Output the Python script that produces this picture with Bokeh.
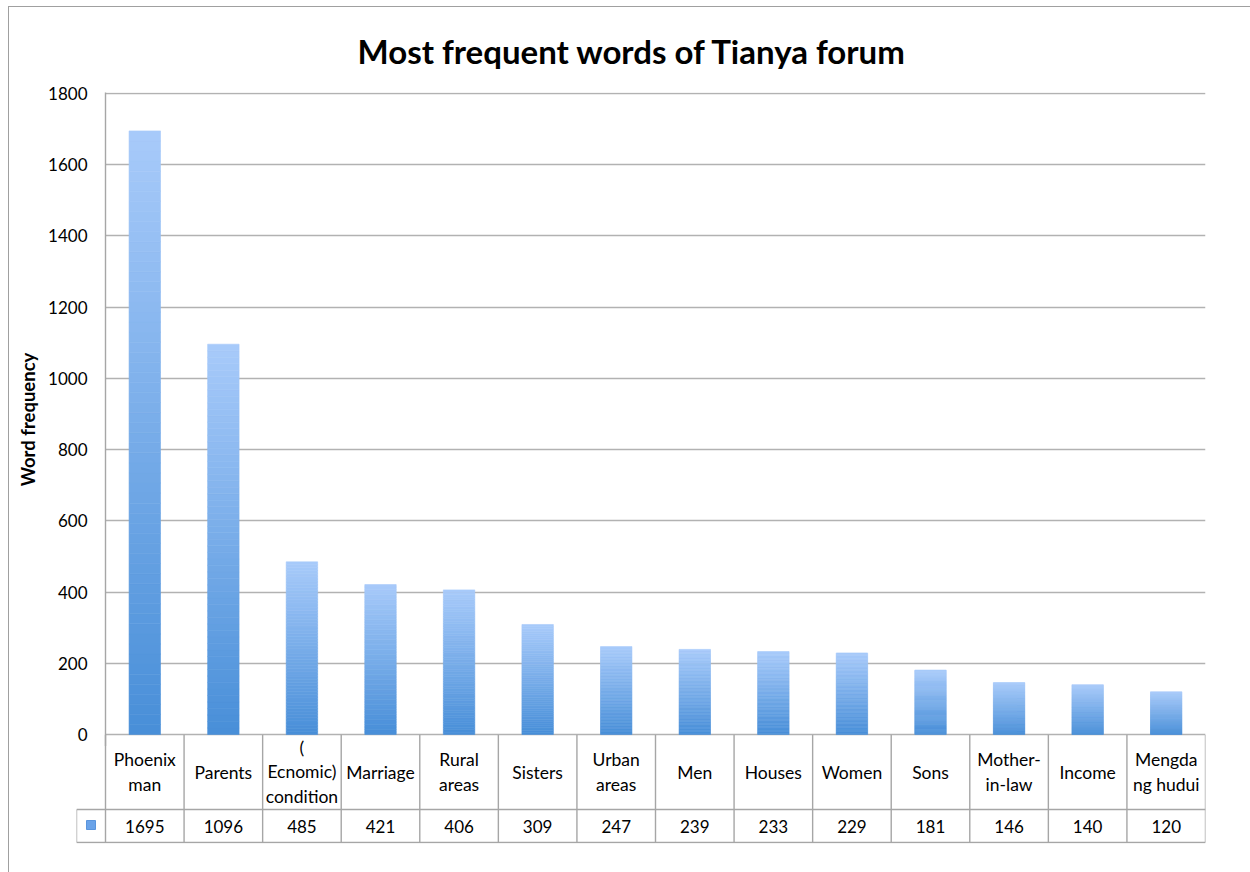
import numpy as np
from bokeh.plotting import figure
from bokeh.models import Range1d, FixedTicker, ColumnDataSource
from bokeh.layouts import column
from bokeh.embed import file_html
from bokeh.resources import INLINE
from bokeh.core.properties import value

# ---------------- data ----------------
categories = ["Phoenix\nman", "Parents", "(\nEcnomic)\ncondition", "Marriage",
              "Rural\nareas", "Sisters", "Urban\nareas", "Men", "Houses",
              "Women", "Sons", "Mother-\nin-law", "Income", "Mengda\nng hudui"]
frequencies = [1695, 1096, 485, 421, 406, 309, 247, 239, 233, 229, 181, 146, 140, 120]
y_ticks = [0, 200, 400, 600, 800, 1000, 1200, 1400, 1600, 1800]

TITLE = "Most frequent words of Tianya forum"
Y_LABEL = "Word frequency"

# ---------------- style ----------------
FONT = "Lato"
GRID = "#b2b2b2"
LINE = "#a6a6a6"
TOP_C = np.array([168, 203, 250])
BOT_C = np.array([72, 142, 216])

n = len(categories)
xc = np.arange(n) + 0.5
vals = np.array(frequencies, dtype=float)
PX = 642.0 / 1800.0  # px per unit
EXT = 12.0           # extra px below the zero line so the "0" label is not cut

H_VAL = 33.0
H_HEAD = 75.0

# ---------------- chart ----------------
p1 = figure(width=1241, height=739, output_backend="svg", toolbar_location=None,
            x_range=Range1d(0, n), y_range=Range1d(-EXT / PX, 1800 + 1.0 / PX),
            x_axis_location=None, y_axis_location="left",
            min_border_left=96, min_border_right=45, min_border_top=84, min_border_bottom=0,
            title=TITLE)
p1.outline_line_color = None
p1.background_fill_color = "white"
p1.border_fill_color = "white"
p1.title.text_font = FONT
p1.title.text_font_size = "33px"
p1.title.text_font_style = "bold"
p1.title.text_color = "black"
p1.title.align = "left"
p1.title.offset = 252
p1.title.standoff = 43

p1.xgrid.visible = False
p1.ygrid.ticker = FixedTicker(ticks=y_ticks)
p1.ygrid.grid_line_color = GRID
p1.ygrid.grid_line_width = 1.4

ax = p1.yaxis[0]
ax.ticker = FixedTicker(ticks=y_ticks)
ax.axis_line_color = LINE
ax.axis_line_width = 1.4
ax.major_tick_line_color = None
ax.minor_tick_line_color = None
ax.major_label_text_font = FONT
ax.major_label_text_font_size = "17px"
ax.major_label_text_color = "black"
ax.major_label_standoff = 12
ax.axis_label = Y_LABEL
ax.axis_label_text_font = FONT
ax.axis_label_text_font_size = "18.5px"
ax.axis_label_text_font_style = "bold"
ax.axis_label_text_color = "black"
ax.axis_label_standoff = 6

# gradient bars: each bar split into thin slices with interpolated colours
NS = 60
bx, bb, bt, bc = [], [], [], []
for k in range(NS):
    t = (k + 0.5) / NS
    c = BOT_C + (TOP_C - BOT_C) * t
    col = "#%02x%02x%02x" % tuple(int(round(v)) for v in c)
    for i in range(n):
        bx.append(xc[i])
        bb.append(vals[i] * k / NS)
        bt.append(vals[i] * (k + 1) / NS)
        bc.append(col)
p1.vbar(x="x", bottom="b", top="t", width=0.4, fill_color="c", line_color="c",
        line_width=0.6, source=ColumnDataSource(dict(x=bx, b=bb, t=bt, c=bc)))

# ---------------- data table (transparent, overlaps the chart's bottom strip) ----------------
KEY = 29.0 / (1100.0 / n)  # width of legend-key cell in category units
TOP2 = H_VAL + H_HEAD
p2 = figure(width=1241, height=138, output_backend="svg", toolbar_location=None,
            x_range=Range1d(-KEY, n), y_range=Range1d(-1, TOP2),
            x_axis_location=None, y_axis_location=None,
            min_border_left=67, min_border_right=45, min_border_top=0, min_border_bottom=29,
            margin=(-int(EXT), 0, 0, 0))
try:
    p1.frame_align = False
    p2.frame_align = False
except Exception:
    pass
p2.outline_line_color = None
p2.grid.visible = False
p2.background_fill_color = None
p2.border_fill_color = None

edges = np.arange(n + 1)
p2.segment(x0=edges, y0=[0] * (n + 1), x1=edges, y1=[TOP2] * (n + 1),
           line_color=LINE, line_width=1.4)
p2.segment(x0=[-KEY, -KEY, -KEY], y0=[0, 0, H_VAL], x1=[-KEY, n, n], y1=[H_VAL, 0, H_VAL],
           line_color=LINE, line_width=1.4)

p2.text(x=xc, y=[H_VAL + H_HEAD / 2] * n, text=categories,
        text_font=value(FONT), text_font_size="17.5px", text_align="center",
        text_baseline="middle", text_line_height=1.15, text_color="black")
p2.text(x=xc, y=[H_VAL / 2] * n, text=[str(v) for v in frequencies],
        text_font=value(FONT), text_font_size="17px", text_align="center",
        text_baseline="middle", text_color="black")
p2.scatter(x=[-KEY / 2], y=[H_VAL / 2 + 1], marker="square", size=9,
           fill_color="#6aa3e9", line_color="#5a95dd")

layout = column(p1, p2, margin=(6, 0, 0, 8), spacing=0,
                styles={"border-top": "1px solid #a0a0a0", "border-left": "1px solid #a0a0a0"})

open("out.html", "w").write(file_html(layout, INLINE))
